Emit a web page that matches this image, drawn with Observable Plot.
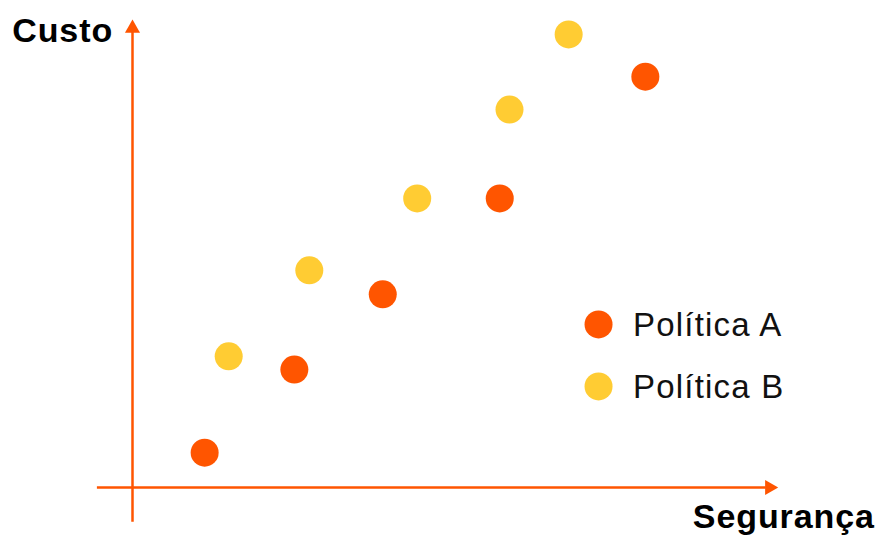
<!DOCTYPE html>
<html>
<head>
<meta charset="utf-8">
<script src="https://cdn.jsdelivr.net/npm/d3@7"></script>
<script src="https://cdn.jsdelivr.net/npm/@observablehq/plot@0.6"></script>
<style>
  html, body { margin: 0; padding: 0; background: #fff; }
  #chart svg { display: block; }
</style>
</head>
<body>
<div id="chart"></div>
<script>
// Data
const series = ["Política A", "Política B"];
const colors = ["#FF5500", "#FFCC33"];
const segurancaA = [1.11, 2.49, 3.85, 5.65, 7.89];
const custoA     = [0.74, 2.51, 4.11, 6.15, 8.74];
const segurancaB = [1.48, 2.72, 4.38, 5.80, 6.71];
const custoB     = [2.79, 4.62, 6.15, 8.04, 9.64];
const xLabel = "Segurança";
const yLabel = "Custo";

const points = [
  ...segurancaA.map((x, i) => ({serie: series[0], seguranca: x, custo: custoA[i]})),
  ...segurancaB.map((x, i) => ({serie: series[1], seguranca: x, custo: custoB[i]}))
];

const orange = "#FF5500";
const font = "'Liberation Sans', Arial, sans-serif";

// legend layout (in scale units)
const legX = 7.17, legY0 = 3.47, legStep = -1.32;
const legend = series.map((s, i) => ({serie: s, y: legY0 + i * legStep}));

const chart = Plot.plot({
  width: 877,
  height: 536,
  margin: 0,
  style: {fontFamily: font, background: "#fff", overflow: "visible"},
  x: {domain: [0, 10], range: [132, 782], axis: null},
  y: {domain: [0, 10], range: [487, 17], axis: null},
  color: {domain: series, range: colors},
  marks: [
    // axes
    Plot.ruleX([0], {y1: -0.74, y2: 9.7, stroke: orange, strokeWidth: 2.5}),
    Plot.ruleY([0], {x1: -0.54, x2: 9.75, stroke: orange, strokeWidth: 2.5}),
    Plot.dot([{x: 0, y: 9.77}], {x: "x", y: "y", symbol: "triangle", r: 5.6, fill: orange, stroke: "none"}),
    Plot.dot([{x: 9.8, y: 0}], {x: "x", y: "y", symbol: "triangle", r: 5.6, fill: orange, stroke: "none", rotate: 90}),
    // axis labels
    Plot.text([yLabel], {x: -1.85, y: 9.72, text: d => d, textAnchor: "start", lineAnchor: "middle", fontSize: 34, fontWeight: "bold", fill: "#000", className: "axlab"}),
    Plot.text([xLabel], {x: 11.42, y: -0.62, text: d => d, textAnchor: "end", lineAnchor: "middle", fontSize: 34, fontWeight: "bold", fill: "#000", className: "axlab"}),
    // data points
    Plot.dot(points, {x: "seguranca", y: "custo", fill: "serie", r: 14, stroke: "none"}),
    // legend
    Plot.dot(legend, {x: legX, y: "y", fill: "serie", r: 14, stroke: "none"}),
    Plot.text(legend, {x: legX + 0.53, y: "y", text: "serie", textAnchor: "start", lineAnchor: "middle", fontSize: 33, fill: "#111", dy: 1, className: "leglab"})
  ]
});
document.getElementById("chart").appendChild(chart);
d3.select(chart).selectAll(".axlab text").style("letter-spacing", "0.9px");
d3.select(chart).selectAll(".leglab text").style("letter-spacing", "1.2px");
</script>
</body>
</html>
